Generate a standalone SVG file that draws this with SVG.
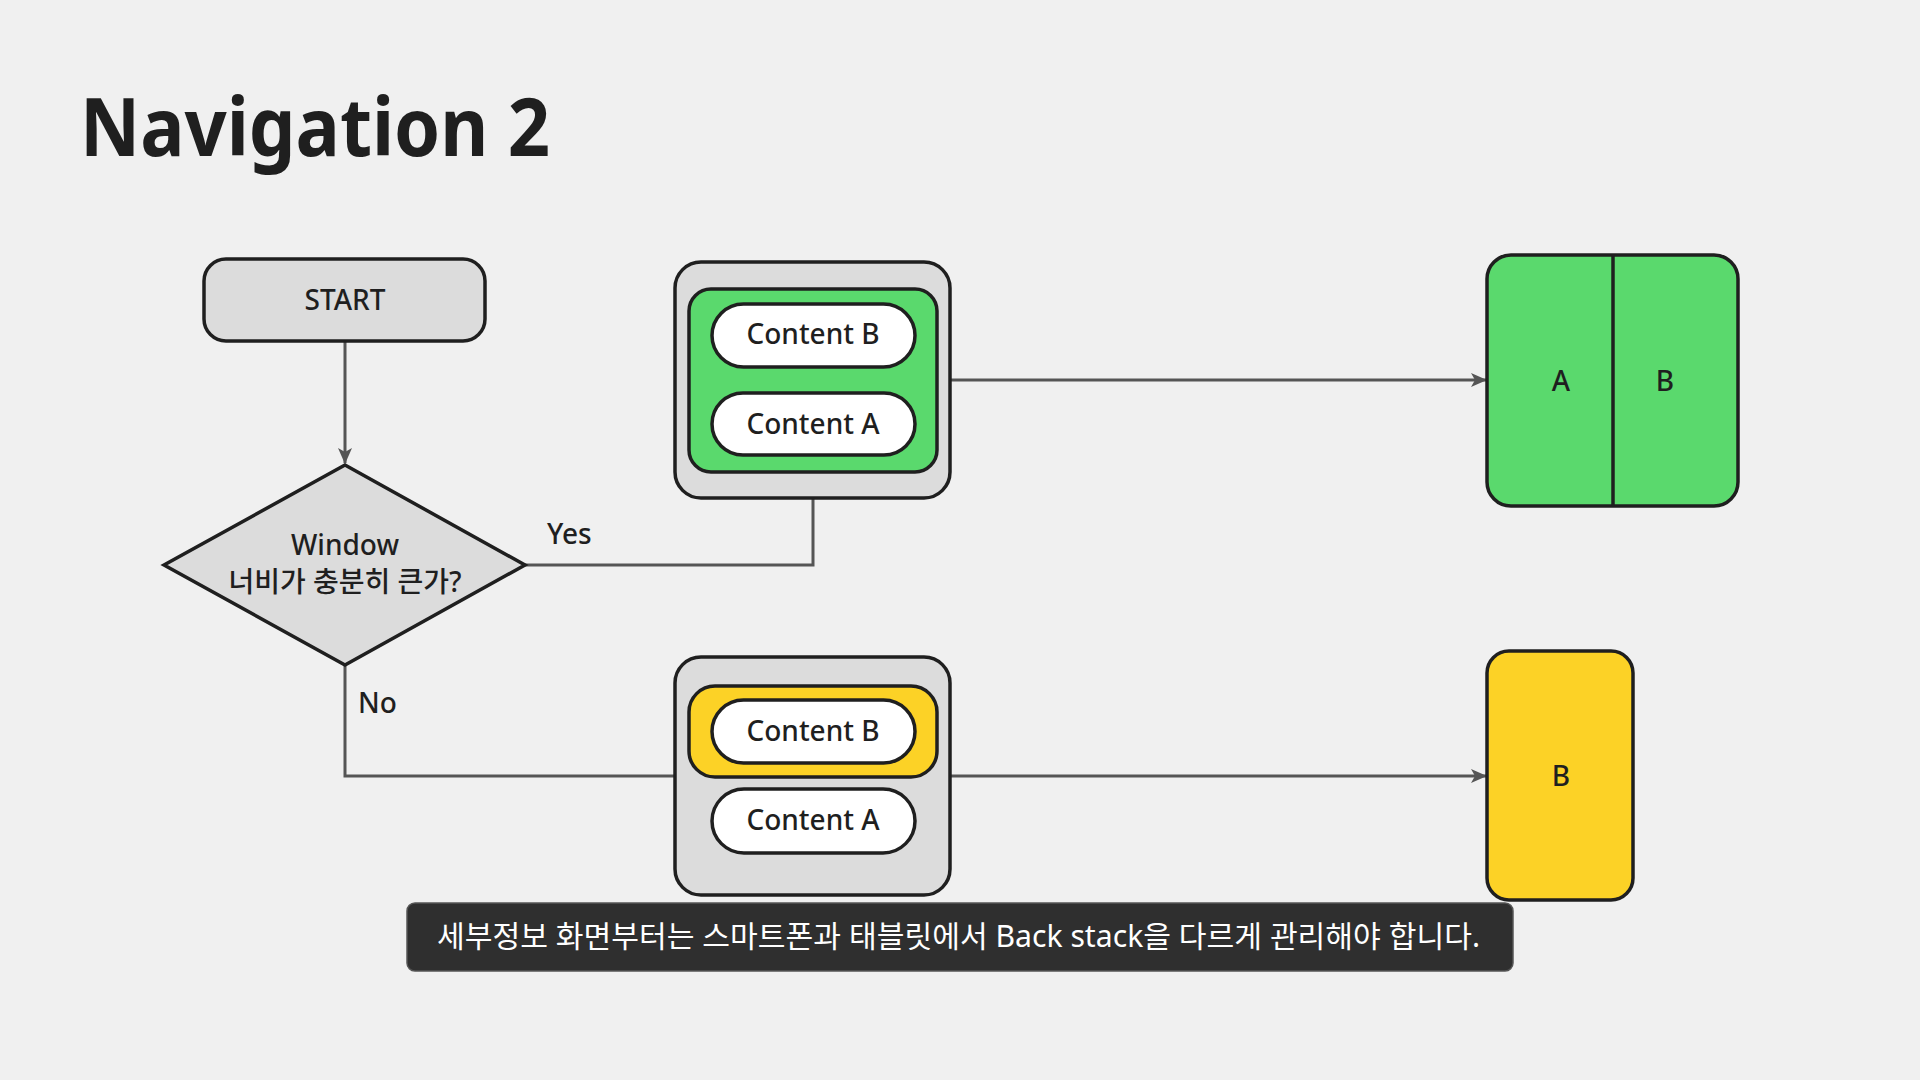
<svg xmlns="http://www.w3.org/2000/svg" width="1920" height="1080" viewBox="0 0 1920 1080">
<defs>
<style>
text{font-family:"Noto Sans","Noto Sans CJK KR",sans-serif;fill:#1f1f1f}
.title{font-size:80px;font-weight:700}
.lbl{font-size:28px;font-weight:500;text-anchor:middle}
.edge-lbl{font-size:28px;font-weight:500}
.grey{fill:#dcdcdc;stroke:#1f1f1f;stroke-width:3.5}
.green{fill:#5ad96d;stroke:#1f1f1f;stroke-width:3.5}
.yellow{fill:#fcd226;stroke:#1f1f1f;stroke-width:3.5}
.pill{fill:#ffffff;stroke:#1f1f1f;stroke-width:3.5}
.conn{fill:none;stroke:#555555;stroke-width:3}
.cap{font-size:30px;fill:#ffffff}
</style>
<marker id="arrow" viewBox="0 0 16 14" refX="15" refY="7" markerWidth="16" markerHeight="14" markerUnits="userSpaceOnUse" orient="auto">
<path d="M0,0 L16,7 L0,14 L4,7 Z" fill="#555555"/>
</marker>
</defs>
<rect width="1920" height="1080" fill="#f0f0f0"/>
<text class="title" x="80" y="156" textLength="470" lengthAdjust="spacingAndGlyphs">Navigation 2</text>

<g id="connectors">
<path class="conn" d="M345,341 V463" marker-end="url(#arrow)"/>
<path class="conn" d="M525,565 H813 V498"/>
<path class="conn" d="M345,665 V776 H675"/>
<path class="conn" d="M950,380 H1486" marker-end="url(#arrow)"/>
<path class="conn" d="M950,776 H1486" marker-end="url(#arrow)"/>
<text class="edge-lbl" x="547" y="544">Yes</text>
<text class="edge-lbl" x="358" y="713">No</text>
</g>

<g id="start">
<rect class="grey" x="204" y="259" width="281" height="82" rx="22"/>
<text class="lbl" x="345" y="310">START</text>
</g>

<g id="decision">
<polygon class="grey" points="345,465 525,565 345,665 164,565"/>
<text class="lbl" x="345" y="555">Window</text>
<text class="lbl" x="345" y="592">너비가 충분히 큰가?</text>
</g>

<g id="tablet-stack">
<rect class="grey" x="675" y="262" width="275" height="236" rx="26"/>
<rect class="green" x="689" y="289" width="248" height="183" rx="22"/>
<rect class="pill" x="712" y="304" width="203" height="63" rx="31.5"/>
<text class="lbl" x="813" y="344">Content B</text>
<rect class="pill" x="712" y="393" width="203" height="62" rx="31"/>
<text class="lbl" x="813" y="434">Content A</text>
</g>

<g id="phone-stack">
<rect class="grey" x="675" y="657" width="275" height="238" rx="26"/>
<rect class="yellow" x="689" y="686" width="248" height="91" rx="26"/>
<rect class="pill" x="712" y="700" width="203" height="63" rx="31.5"/>
<text class="lbl" x="813" y="741">Content B</text>
<rect class="pill" x="712" y="789" width="203" height="64" rx="32"/>
<text class="lbl" x="813" y="830">Content A</text>
</g>

<g id="tablet-view">
<rect class="green" x="1487" y="255" width="251" height="251" rx="24"/>
<line x1="1613" y1="255" x2="1613" y2="506" stroke="#1f1f1f" stroke-width="3.5"/>
<text class="lbl" x="1561" y="391">A</text>
<text class="lbl" x="1665" y="391">B</text>
</g>

<g id="phone-view">
<rect class="yellow" x="1487" y="651" width="146" height="249" rx="22"/>
<text class="lbl" x="1561" y="786">B</text>
</g>

<g id="caption">
<rect x="407" y="903" width="1106" height="68" rx="8" fill="#2f2f2f" stroke="#555555" stroke-width="1.5"/>
<text class="cap" x="437" y="947" textLength="1043" lengthAdjust="spacingAndGlyphs">세부정보 화면부터는 스마트폰과 태블릿에서 Back stack을 다르게 관리해야 합니다.</text>
</g>
</svg>
